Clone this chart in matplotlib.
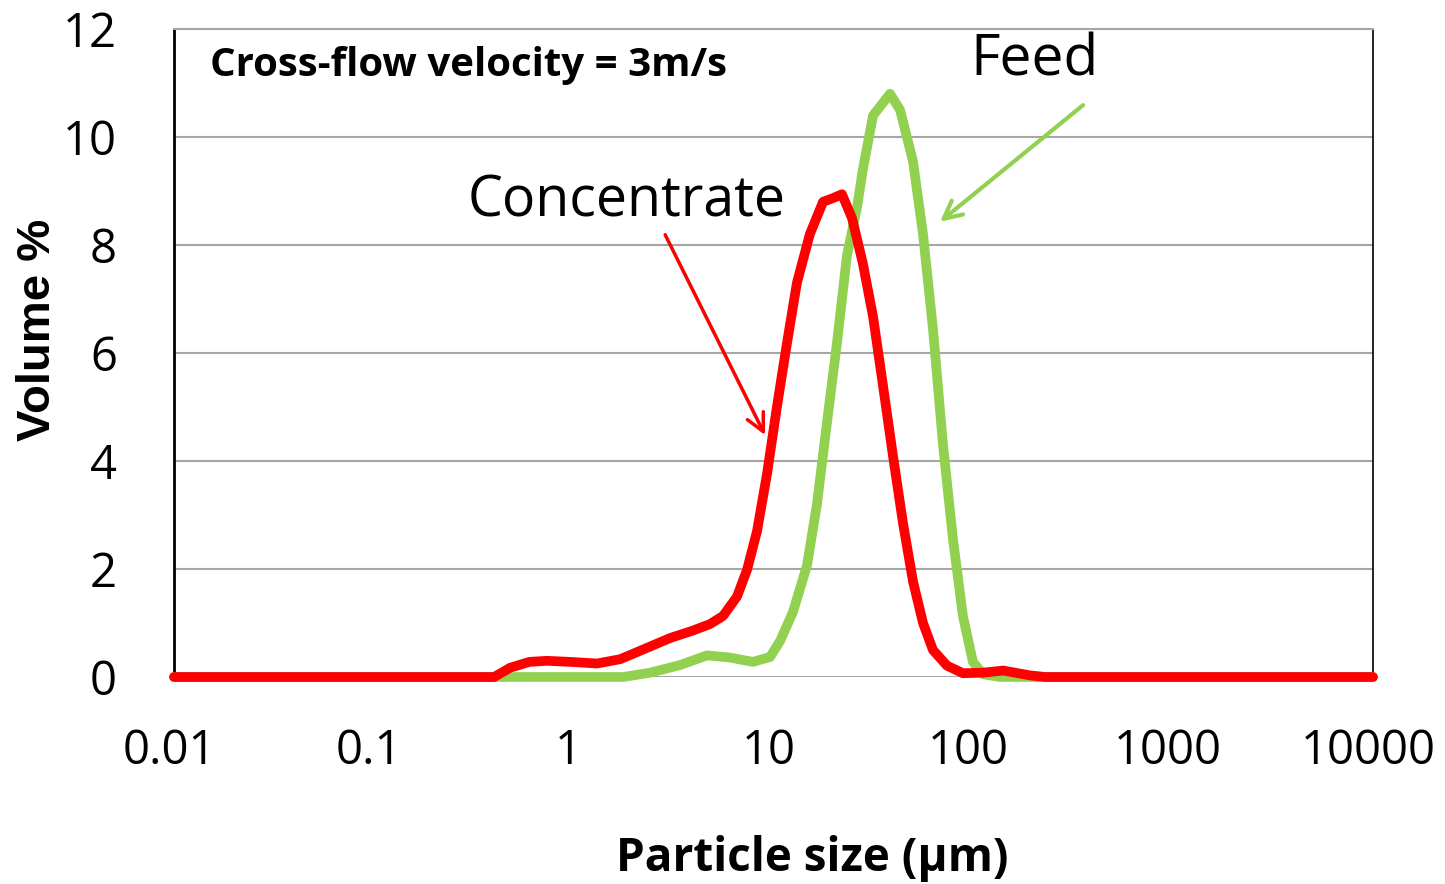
import matplotlib
matplotlib.use("Agg")
import matplotlib.pyplot as plt
from matplotlib.transforms import ScaledTranslation

# Data (particle size in µm, volume %)
conc_size = [0.01, 0.40, 0.48, 0.60, 0.735, 0.96, 1.31, 1.71, 2.33, 3.03,
             3.95, 4.81, 5.59, 6.57, 7.38, 8.27, 9.28, 10.4, 11.7, 13.1,
             15.2, 17.7, 19.9, 22.0, 24.7, 28.0, 31.5, 35.3, 39.6, 44.5,
             49.9, 56.0, 62.8, 73.8, 88.7, 112, 141, 192, 229, 10000]
conc_vol = [0, 0, 0.17, 0.28, 0.30, 0.28, 0.25, 0.33, 0.54, 0.72,
            0.86, 0.98, 1.13, 1.49, 1.99, 2.7, 3.76, 5.0, 6.2, 7.3,
            8.2, 8.8, 8.87, 8.94, 8.5, 7.66, 6.67, 5.4, 4.1, 2.84,
            1.77, 1.0, 0.5, 0.21, 0.07, 0.08, 0.12, 0.03, 0, 0]

feed_size = [0.01, 1.77, 2.41, 3.40, 4.65, 6.05, 7.89, 9.61, 10.8, 12.5,
             14.7, 16.5, 18.5, 20.8, 23.3, 26.2, 28.0, 31.5, 38.3, 43.0,
             49.9, 56.0, 62.8, 70.5, 79.1, 88.7, 99.5, 112, 136, 10000]
feed_vol = [0, 0, 0.08, 0.22, 0.40, 0.36, 0.28, 0.37, 0.67, 1.2,
            2.06, 3.2, 4.7, 6.2, 7.8, 8.7, 9.4, 10.4, 10.8, 10.5,
            9.55, 8.2, 6.45, 4.3, 2.55, 1.13, 0.28, 0.05, 0, 0]

x_ticks = [0.01, 0.1, 1, 10, 100, 1000, 10000]
x_tick_labels = ["0.01", "0.1", "1", "10", "100", "1000", "10000"]
y_ticks = [0, 2, 4, 6, 8, 10, 12]

plt.rcParams['font.family'] = ['Open Sans', 'DejaVu Sans']

fig = plt.figure(figsize=(14.45, 8.84), dpi=100)
ax = fig.add_axes([174/1445, 1 - 677/884, (1373 - 174)/1445, (677 - 29)/884])

ax.set_xscale('log')
ax.set_xlim(0.01, 10000)
ax.set_ylim(0, 12)

ax.plot(feed_size, feed_vol, color='#92D050', lw=7, solid_joinstyle='round',
        solid_capstyle='round', zorder=3, clip_on=False)
ax.plot(conc_size, conc_vol, color='#FF0000', lw=7, solid_joinstyle='round',
        solid_capstyle='round', zorder=4, clip_on=False)

ax.set_yticks(y_ticks)
ax.set_yticklabels([str(v) for v in y_ticks])
ax.set_xticks(x_ticks)
ax.set_xticklabels(x_tick_labels)
ax.minorticks_off()
ax.tick_params(axis='both', length=0, labelsize=34)
ax.tick_params(axis='y', pad=41)
ax.tick_params(axis='x', pad=36)
shift = ScaledTranslation(-5 / 100, 0, fig.dpi_scale_trans)
for lbl in ax.get_xticklabels():
    lbl.set_transform(lbl.get_transform() + shift)

ax.grid(axis='y', color='#a6a6a6', lw=1.5)
ax.set_axisbelow(True)
ax.spines['bottom'].set_visible(False)
ax.spines['top'].set_color('#a6a6a6')
ax.spines['top'].set_linewidth(1.5)
ax.spines['left'].set_linewidth(2)
ax.spines['right'].set_linewidth(1.2)

ax.set_xlabel('Particle size (µm)', fontsize=33, fontweight='bold')
ax.xaxis.set_label_coords((812 - 174) / 1199, (677 - 858) / 648)
ax.xaxis.label.set_va('center')

fig.text(38 / 1445, 1 - 330 / 884, 'Volume %', fontsize=34, fontweight='bold',
         family=['Liberation Sans', 'DejaVu Sans'], rotation=90,
         ha='center', va='center')

ax.text(0.0151, 11.32, 'Cross-flow velocity = 3m/s', fontsize=29,
        fontweight='bold', ha='left', va='center')
ax.text(202, 11.40, 'Feed', fontsize=41, ha='center', va='center')
ax.text(1.85, 8.80, 'Concentrate', fontsize=40, ha='center', va='center')

ax.annotate('', xy=(68.1, 8.43), xytext=(354, 10.59),
            arrowprops=dict(arrowstyle='->', color='#92D050', lw=3,
                            mutation_scale=32, shrinkA=0, shrinkB=0))
ax.annotate('', xy=(9.07, 4.48), xytext=(2.87, 8.19),
            arrowprops=dict(arrowstyle='->', color='#FF0000', lw=2.5,
                            mutation_scale=32, shrinkA=0, shrinkB=0))

fig.savefig('out.png', dpi=100)
